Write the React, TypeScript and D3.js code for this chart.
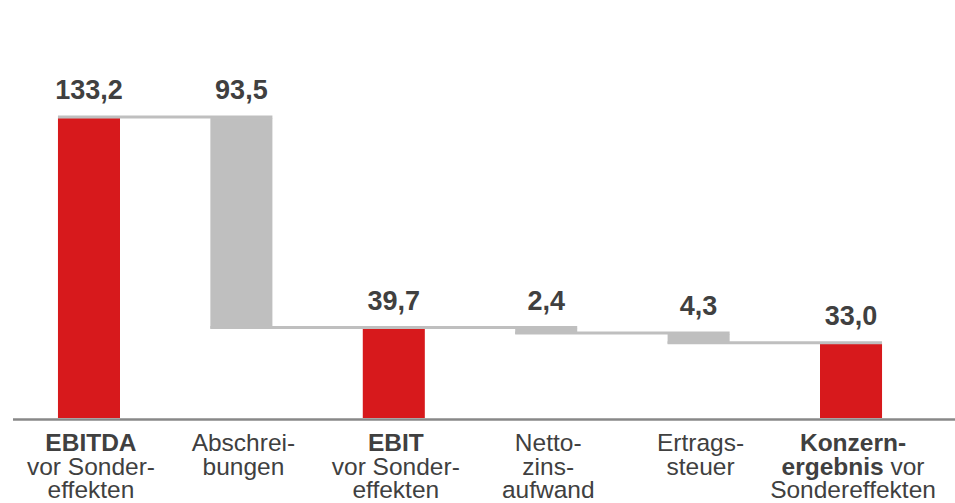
import React, { useEffect, useRef } from 'react'
import * as d3 from 'd3'

const WIDTH = 955
const HEIGHT = 503

// waterfall steps: totals start at zero, the others hang off the running sum
const categories = ['EBITDA', 'Abschreibungen', 'EBIT', 'Nettozinsaufwand', 'Ertragssteuer', 'Konzernergebnis']
const values = [133.2, -93.5, 39.7, -2.4, -4.3, 33.0]
const isTotal = [true, false, true, false, false, true]

// axis text, one entry per line, each line split into [text, bold] runs
const categoryLines: [string, boolean][][][] = [
  [[['EBITDA', true]], [['vor Sonder-', false]], [['effekten', false]]],
  [[['Abschrei-', false]], [['bungen', false]]],
  [[['EBIT', true]], [['vor Sonder-', false]], [['effekten', false]]],
  [[['Netto-', false]], [['zins-', false]], [['aufwand', false]]],
  [[['Ertrags-', false]], [['steuer', false]]],
  [[['Konzern-', true]], [['ergebnis', true], [' vor', false]], [['Sondereffekten', false]]],
]

const RED = '#d7191c'
const GREY = '#bfbfbf'
const TEXT = '#404040'

const de = d3.formatLocale({ decimal: ',', thousands: '.', grouping: [3], currency: ['', ' €'] })
const fmt = de.format('.1f')

function WaterfallChart() {
  const ref = useRef<SVGSVGElement>(null)

  useEffect(() => {
    const svg = d3.select(ref.current)
    svg.selectAll('*').remove()

    const baseline = 418

    const x = d3
      .scaleBand()
      .domain(categories)
      .range([13, 927])
      .paddingInner(0.593)
      .paddingOuter(0.295)

    const y = d3.scaleLinear().domain([0, 150]).range([baseline, baseline - 150 * 2.252])

    let running = 0
    const steps = categories.map((c, i) => {
      let start, end
      if (isTotal[i]) {
        start = 0
        end = values[i]
      } else {
        start = running
        end = running + values[i]
      }
      running = end
      return { c, start, end, total: isTotal[i], v: values[i] }
    })

    const g = svg.append('g')

    g.selectAll('rect.bar')
      .data(steps)
      .join('rect')
      .attr('class', 'bar')
      .attr('x', d => x(d.c)!)
      .attr('width', x.bandwidth())
      .attr('y', d => y(Math.max(d.start, d.end)))
      .attr('height', d => Math.abs(y(d.start) - y(d.end)))
      .attr('fill', d => (d.total ? RED : GREY))

    // connectors from a bar's left edge to the next bar's right edge
    g.selectAll('line.conn')
      .data(steps.slice(0, -1))
      .join('line')
      .attr('class', 'conn')
      .attr('x1', d => x(d.c)!)
      .attr('x2', (d, i) => x(categories[i + 1])! + x.bandwidth())
      .attr('y1', d => y(d.end) - 1)
      .attr('y2', d => y(d.end) - 1)
      .attr('stroke', GREY)
      .attr('stroke-width', 3)

    g.append('line')
      .attr('x1', x.range()[0])
      .attr('x2', WIDTH)
      .attr('y1', baseline + 1.5)
      .attr('y2', baseline + 1.5)
      .attr('stroke', '#888888')
      .attr('stroke-width', 2.7)

    g.selectAll('text.val')
      .data(steps)
      .join('text')
      .attr('class', 'val')
      .attr('x', d => x(d.c)! + x.bandwidth() / 2)
      .attr('y', d => y(Math.max(d.start, d.end)) - 19)
      .attr('text-anchor', 'middle')
      .attr('font-family', '"Liberation Sans", Arial, sans-serif')
      .attr('font-weight', 'bold')
      .attr('font-size', 27)
      .attr('fill', TEXT)
      .text(d => fmt(Math.abs(d.v)))

    const cat = g
      .selectAll('text.cat')
      .data(categories)
      .join('text')
      .attr('class', 'cat')
      .attr('text-anchor', 'middle')
      .attr('font-family', '"Liberation Sans", Arial, sans-serif')
      .attr('font-size', 24.5)
      .attr('fill', TEXT)

    cat.each(function (c, i) {
      const t = d3.select(this)
      const cx = x(c)! + x.bandwidth() / 2 + 2
      categoryLines[i].forEach((line, li) => {
        const tl = t
          .append('tspan')
          .attr('x', cx)
          .attr('y', 451 + li * 23.5)
        line.forEach(([s, bold]) => {
          tl.append('tspan')
            .attr('font-weight', bold ? 'bold' : 'normal')
            .text(s)
        })
      })
    })
  }, [])

  return <svg ref={ref} width={WIDTH} height={HEIGHT} style={{ display: 'block' }} />
}

export default function App() {
  return (
    <div style={{ position: 'absolute', left: 0, top: 0, width: WIDTH, height: HEIGHT, background: '#fff' }}>
      <WaterfallChart />
    </div>
  )
}
